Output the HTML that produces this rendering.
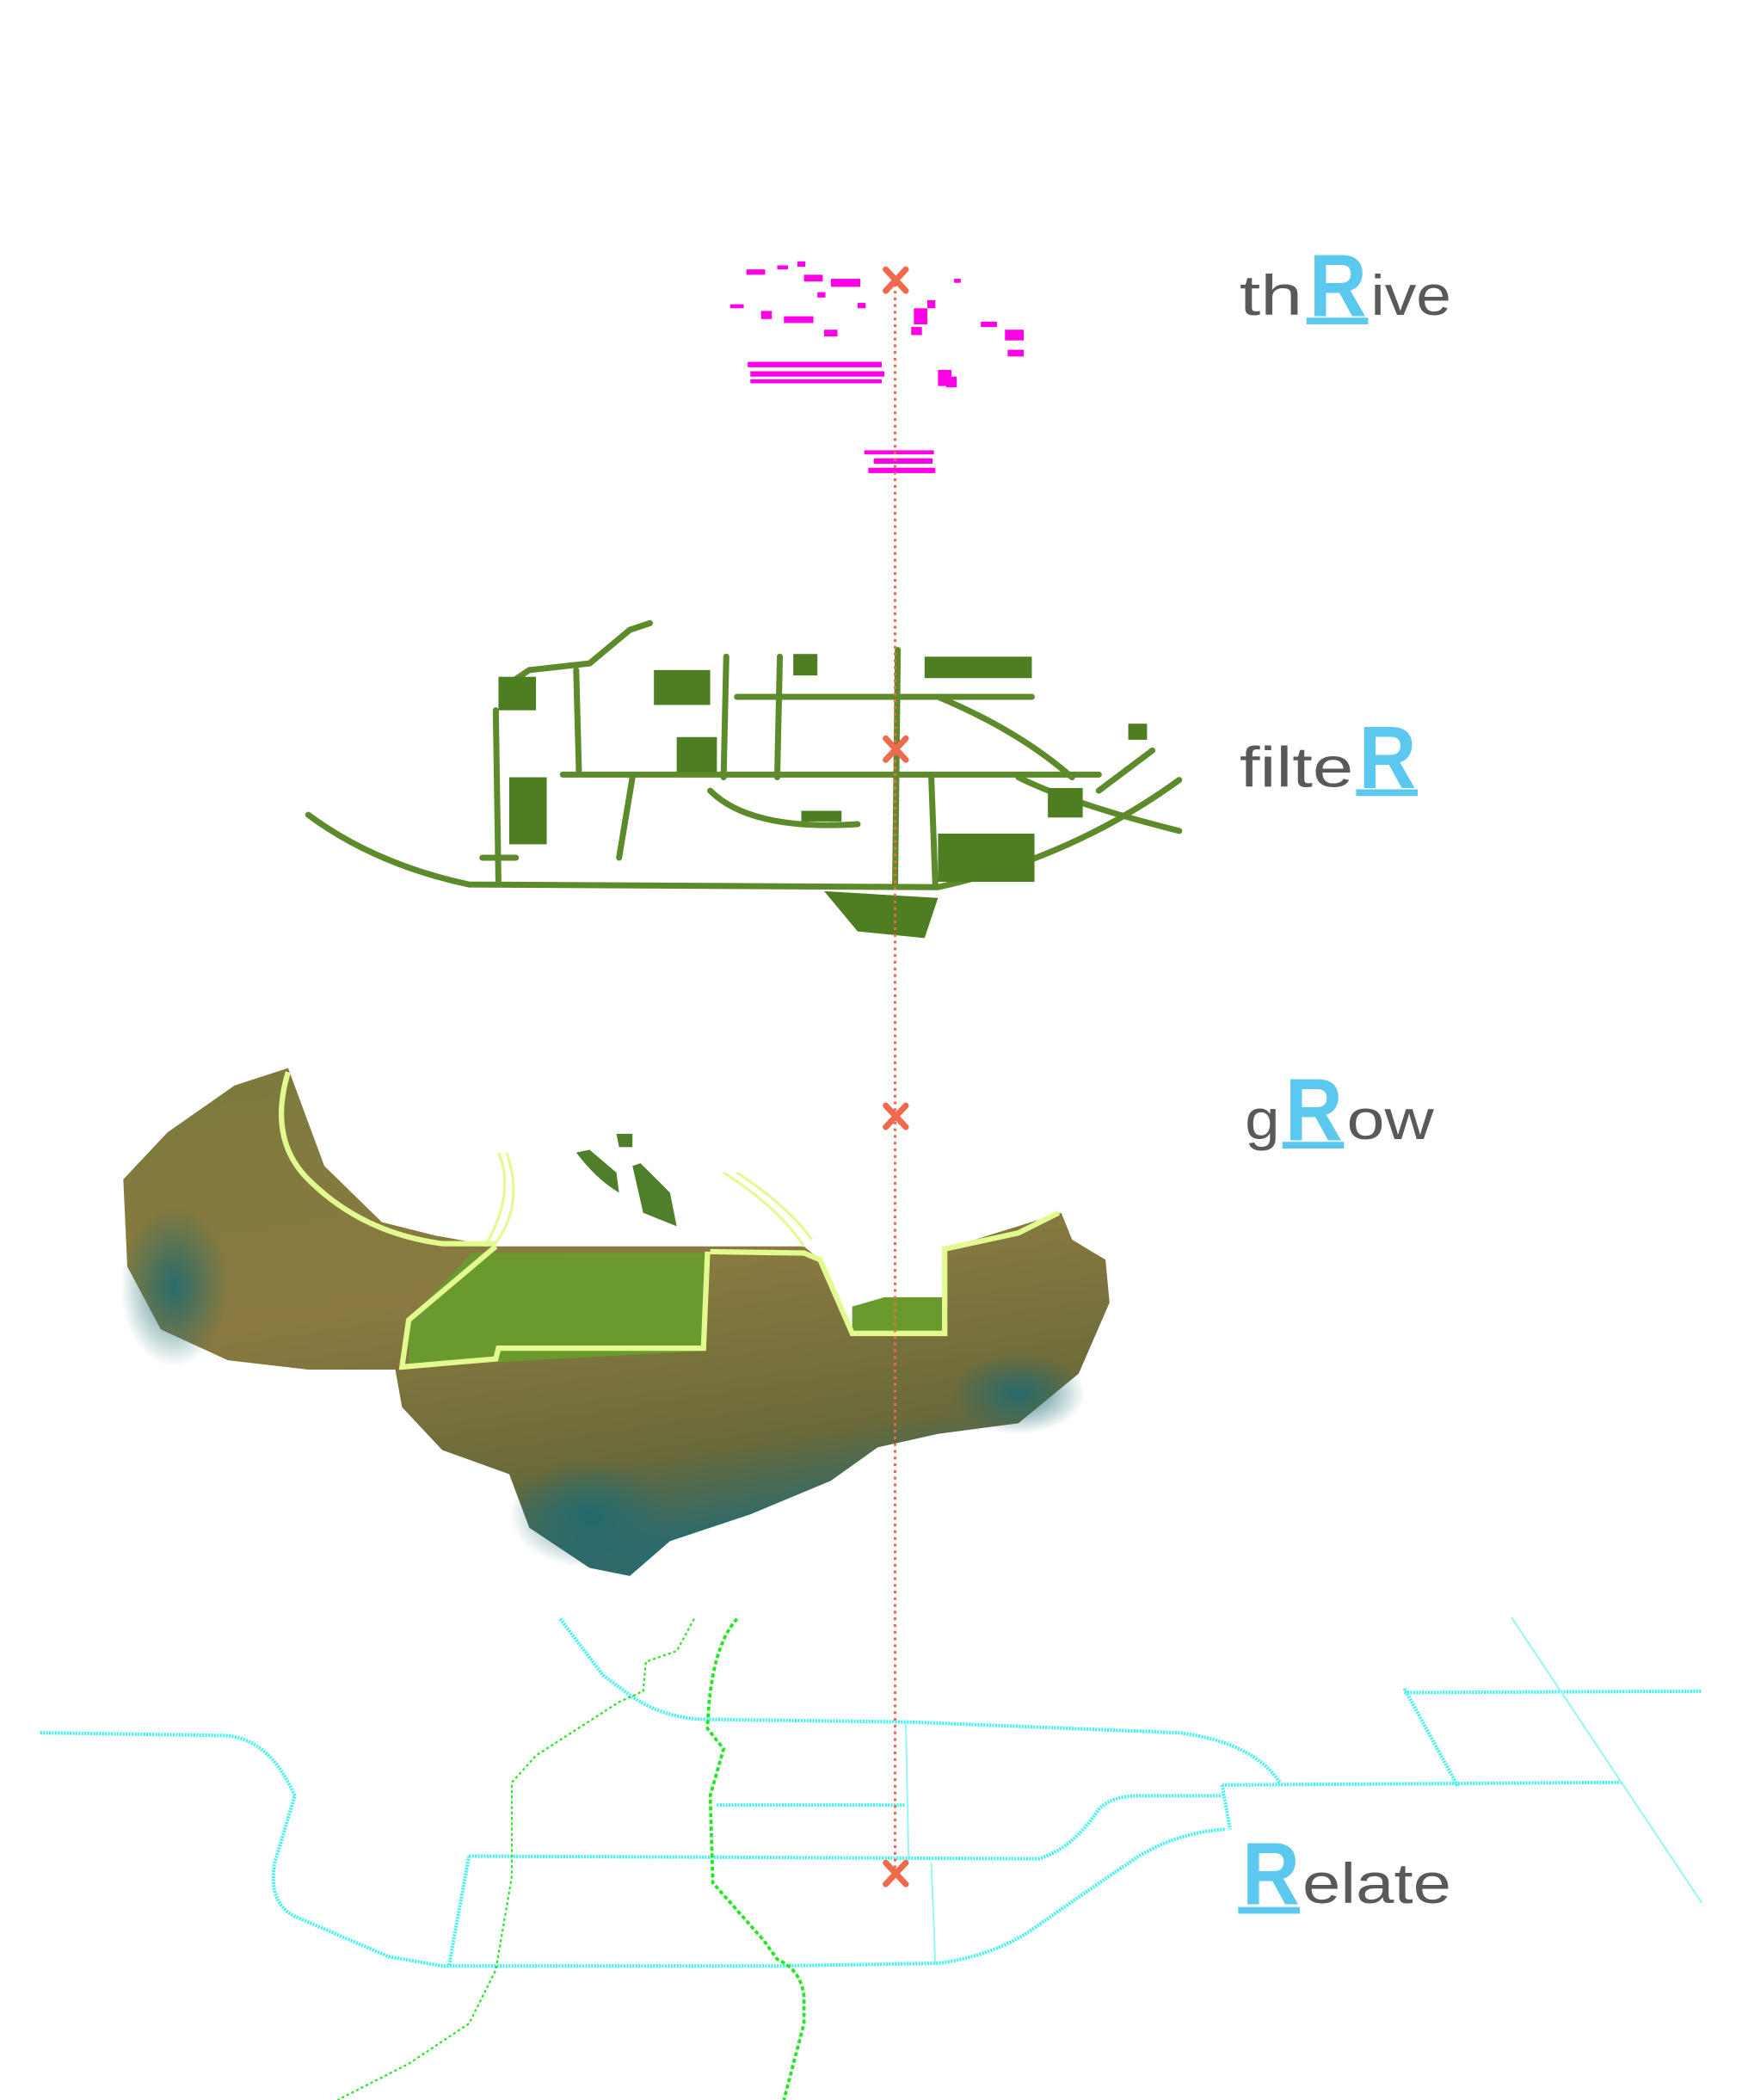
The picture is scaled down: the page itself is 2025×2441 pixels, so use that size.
<!DOCTYPE html>
<html><head><meta charset="utf-8"><style>
html,body{margin:0;padding:0;background:#fff;}
svg{display:block;}
.lbl{font-family:"Liberation Sans",sans-serif;fill:#58595b;font-size:42px;}
.R{font-family:"Liberation Sans",sans-serif;fill:#5bc8ef;font-weight:bold;font-size:66px;}
</style></head><body>
<svg width="2025" height="2441" viewBox="0 0 1300 1567" xmlns="http://www.w3.org/2000/svg">
<defs>
<linearGradient id="terr" x1="0" y1="0" x2="0.3" y2="1">
<stop offset="0" stop-color="#7c7a3c"/><stop offset="0.5" stop-color="#8a7a40"/><stop offset="0.85" stop-color="#6a6a3a"/><stop offset="1" stop-color="#2f6a6a"/>
</linearGradient>
<radialGradient id="teal" cx="0.5" cy="0.5" r="0.5"><stop offset="0" stop-color="#1f6a70" stop-opacity="0.9"/><stop offset="1" stop-color="#1f6a70" stop-opacity="0"/></radialGradient>
</defs>

<!-- magenta layer -->
<g fill="#ff00e6">
<rect x="557" y="201" width="14" height="4"/><rect x="580" y="198" width="8" height="3"/><rect x="595" y="195" width="6" height="4"/>
<rect x="600" y="205" width="14" height="5"/><rect x="620" y="208" width="22" height="6"/><rect x="610" y="218" width="6" height="4"/>
<rect x="545" y="227" width="10" height="3"/><rect x="568" y="232" width="8" height="6"/><rect x="585" y="236" width="22" height="5"/>
<rect x="615" y="246" width="10" height="5"/><rect x="640" y="226" width="6" height="4"/><rect x="682" y="230" width="10" height="12"/>
<rect x="692" y="224" width="6" height="6"/><rect x="712" y="208" width="5" height="3"/><rect x="732" y="240" width="12" height="4"/>
<rect x="750" y="246" width="14" height="8"/><rect x="752" y="261" width="12" height="5"/><rect x="680" y="244" width="8" height="6"/>
<rect x="558" y="270" width="100" height="4"/><rect x="560" y="277" width="100" height="4"/><rect x="560" y="283" width="98" height="3"/>
<rect x="700" y="276" width="10" height="12"/><rect x="706" y="281" width="8" height="8"/>
<rect x="645" y="336" width="52" height="3"/><rect x="652" y="342" width="44" height="4"/><rect x="648" y="349" width="50" height="4"/>
</g>

<!-- filter green layer -->
<g fill="none" stroke="#5d8a2a" stroke-width="4.5" stroke-linecap="round">
<path d="M230 608 Q280 645 350 660 L700 662 Q800 640 880 582"/>
<path d="M370 530 L372 660"/><path d="M380 510 L395 500 L440 495 L470 470 L485 465"/>
<path d="M430 500 L432 575"/><path d="M472 580 L462 640"/>
<path d="M420 578 L820 578"/><path d="M550 520 L770 520"/>
<path d="M542 490 L540 580"/><path d="M582 490 L580 580"/><path d="M670 485 L668 660"/><path d="M695 580 L698 660"/>
<path d="M530 590 Q560 620 640 615"/><path d="M700 520 Q760 545 800 580"/>
<path d="M760 580 Q800 600 880 620"/><path d="M820 590 L860 560"/><path d="M360 640 L385 640"/>
</g>
<g fill="#4f7d22">
<rect x="488" y="500" width="42" height="26"/><rect x="505" y="550" width="30" height="26"/><rect x="592" y="488" width="18" height="16"/>
<rect x="700" y="622" width="72" height="36"/><rect x="782" y="588" width="26" height="22"/><rect x="380" y="580" width="28" height="50"/>
<rect x="690" y="490" width="80" height="16"/><rect x="372" y="505" width="28" height="25"/><rect x="598" y="605" width="30" height="8"/>
<rect x="842" y="540" width="14" height="12"/><path d="M615 665 L700 670 L690 700 L640 695 Z"/>
</g>

<!-- terrain -->
<path fill="url(#terr)" d="M215 797 L175 810 L125 845 L92 880 L95 945 L120 992 L170 1015 L230 1022 L295 1022 L300 1050 L330 1082 L380 1100 L395 1140 L440 1170 L470 1176 L500 1150 L560 1130 L620 1105 L655 1080 L700 1070 L760 1062 L805 1025 L828 972 L825 940 L800 925 L792 905 L705 932 L705 995 L636 995 L612 940 L600 930 L530 930 L370 930 L325 922 L285 912 L242 870 Z"/>
<ellipse cx="130" cy="960" rx="40" ry="60" fill="url(#teal)"/>
<ellipse cx="440" cy="1130" rx="60" ry="40" fill="url(#teal)"/>
<ellipse cx="760" cy="1040" rx="50" ry="30" fill="url(#teal)"/>
<path fill="#6a9a2e" d="M305 985 L352 935 L530 935 L526 1008 L305 1020 Z"/>
<path fill="#6a9a2e" d="M636 975 L660 968 L704 968 L704 993 L636 993 Z"/>
<path fill="#4f7f2a" d="M430 860 Q445 880 462 890 L460 875 L440 858 Z"/>
<path fill="#4f7f2a" d="M460 846 L472 846 L472 856 L462 856 Z"/>
<path fill="#4f7f2a" d="M472 870 L480 905 L505 915 L500 890 L478 868 Z"/>
<g fill="none" stroke="#e3fa90" stroke-width="4">
<path d="M215 800 Q200 850 230 880 Q270 920 330 928 L370 928"/>
<path d="M370 930 L305 985 L300 1020 L370 1014 L372 1006 L525 1006 L528 934"/>
<path d="M530 934 L600 935 L612 940 L636 995 L705 995 L705 932 L760 920 L790 905"/>
</g>
<g fill="none" stroke="#e3fa90" stroke-width="2">
<path d="M372 860 Q385 890 362 930"/><path d="M378 860 Q392 900 368 930"/>
<path d="M540 875 Q580 900 600 930"/><path d="M550 875 Q588 900 606 925"/>
</g>

<!-- relate layer -->
<g fill="none" stroke="#46f2f0" stroke-width="2.6" stroke-dasharray="1.4 0.8">
<path d="M30 1293 L165 1295 Q200 1295 220 1340 L205 1390 Q200 1420 220 1430 L290 1460 L330 1467 L580 1467 L700 1465 Q740 1460 770 1440 Q820 1405 850 1385 Q880 1367 915 1365"/>
<path d="M418 1208 L450 1250 L470 1265 Q495 1282 525 1283 L680 1285 L880 1293 Q935 1300 955 1330"/>
<path d="M912 1332 L1210 1330"/><path d="M912 1332 L918 1365"/>
<path d="M350 1385 L775 1387 Q800 1380 820 1350 Q830 1340 850 1340 L912 1340"/>
<path d="M350 1385 L335 1467"/><path d="M535 1347 L676 1347"/>
<path d="M1048 1260 L1088 1333"/><path d="M1048 1263 L1270 1262"/>
</g>
<g fill="none" stroke="#8ef6f4" stroke-width="1.2">
<path d="M676 1285 L678 1385"/><path d="M695 1390 L698 1465"/><path d="M1128 1207 L1270 1420"/>
</g>
<path fill="none" stroke="#1bea1b" stroke-width="2.4" stroke-dasharray="3 2" d="M550 1208 Q530 1230 528 1290 L540 1305 L530 1340 L532 1405 L570 1448 L580 1462 Q598 1470 600 1490 L600 1510 L585 1567"/>
<path fill="none" stroke="#1bea1b" stroke-width="1.4" stroke-dasharray="2 2" d="M518 1208 L505 1232 L482 1240 L480 1262 L462 1270 L400 1310 L382 1330 L382 1400 L370 1470 L350 1510 L305 1540 L252 1567"/>

<!-- red axis -->
<path d="M668 212 L668 1398" stroke="#ef6a4c" stroke-width="2" stroke-dasharray="2 3"/>
<g stroke="#ef6a4c" stroke-width="4.5" stroke-linecap="round">
<path d="M661 201 L676 217 M676 201 L661 217"/>
<path d="M661 551 L676 567 M676 551 L661 567"/>
<path d="M661 825 L676 841 M676 825 L661 841"/>
<path d="M661 1390 L676 1406 M676 1390 L661 1406"/>
</g>

<!-- labels -->
<text class="lbl" x="925" y="235" textLength="47" lengthAdjust="spacingAndGlyphs">th</text>
<text class="R" x="977" y="236" textLength="43" lengthAdjust="spacingAndGlyphs">R</text>
<text class="lbl" x="1023" y="235" textLength="60" lengthAdjust="spacingAndGlyphs">ive</text>
<rect x="975" y="237" width="46" height="5" fill="#5bc8ef"/>

<text class="lbl" x="925" y="587" textLength="85" lengthAdjust="spacingAndGlyphs">filte</text>
<text class="R" x="1014" y="588" textLength="43" lengthAdjust="spacingAndGlyphs">R</text>
<rect x="1012" y="589" width="46" height="5" fill="#5bc8ef"/>

<text class="lbl" x="929" y="850" textLength="26" lengthAdjust="spacingAndGlyphs">g</text>
<text class="R" x="959" y="851" textLength="43" lengthAdjust="spacingAndGlyphs">R</text>
<text class="lbl" x="1005" y="850" textLength="65" lengthAdjust="spacingAndGlyphs">ow</text>
<rect x="957" y="852" width="46" height="5" fill="#5bc8ef"/>

<text class="R" x="927" y="1421" textLength="43" lengthAdjust="spacingAndGlyphs">R</text>
<text class="lbl" x="972" y="1420" textLength="111" lengthAdjust="spacingAndGlyphs">elate</text>
<rect x="924" y="1423" width="46" height="5" fill="#5bc8ef"/>
</svg>
</body></html>
